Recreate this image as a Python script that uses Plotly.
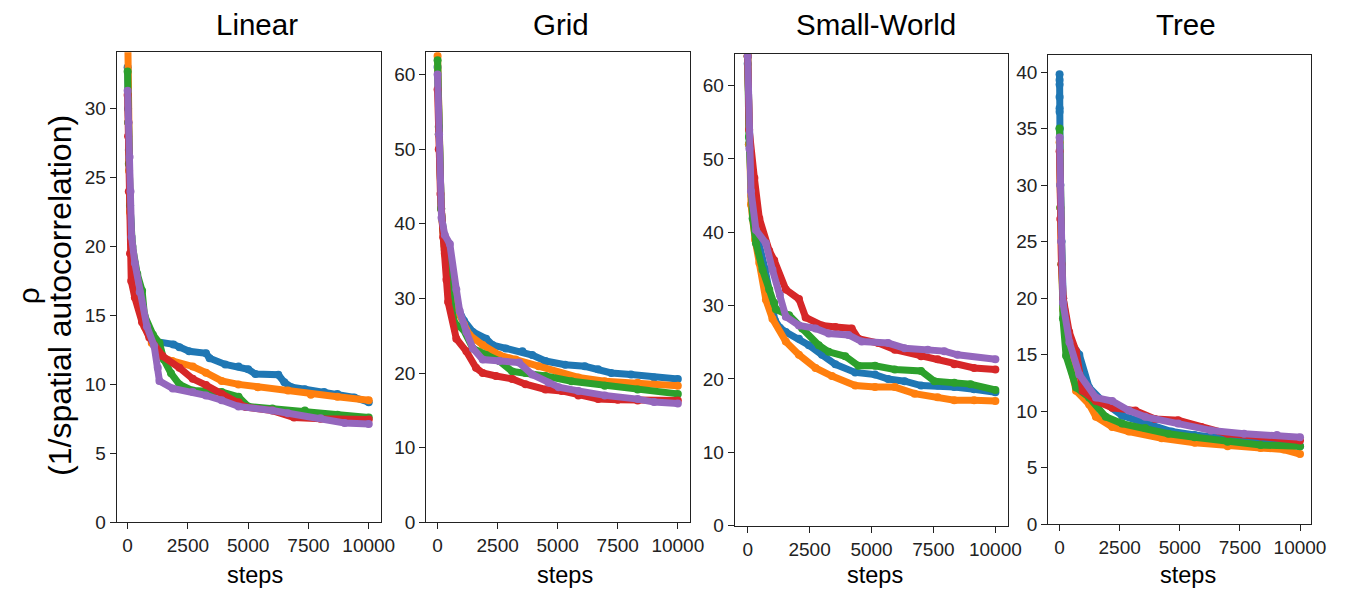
import plotly.graph_objects as go

W, H = 1346, 590

COLORS = ["#1f77b4", "#ff7f0e", "#2ca02c", "#d62728", "#9467bd"]
TITLES = ["Linear", "Grid", "Small-World", "Tree"]
X_TICKS = [0, 2500, 5000, 7500, 10000]
Y_TICKS = [
    [0, 5, 10, 15, 20, 25, 30],
    [0, 10, 20, 30, 40, 50, 60],
    [0, 10, 20, 30, 40, 50, 60],
    [0, 5, 10, 15, 20, 25, 30, 35, 40],
]
Y_LABEL_LINES = ["ρ", "(1/spatial autocorrelation)"]

# ---------------- Linear ----------------
L_blue_x = [0, 20, 50, 100, 200, 400, 700, 1000, 1200, 1900, 2150, 2550, 3250, 3400, 4050, 4600, 5000, 5300, 6250, 6500, 6800, 7350, 8150, 8700, 9400, 10000]
L_blue_y = [33.0, 30.0, 27.0, 23.0, 19.5, 16.8, 14.6, 13.6, 13.1, 12.9, 12.7, 12.4, 12.25, 11.9, 11.45, 11.3, 11.1, 10.75, 10.7, 10.15, 9.8, 9.65, 9.45, 9.3, 9.05, 8.7]
L_orange_x = [0, 30, 60, 100, 200, 400, 700, 1000, 1300, 1850, 2700, 3250, 3900, 4600, 5400, 6650, 7600, 8700, 10000]
L_orange_y = [36.0, 29.0, 25.5, 22.5, 19.2, 16.3, 14.2, 13.0, 12.05, 11.7, 11.3, 10.85, 10.25, 10.0, 9.8, 9.55, 9.25, 9.1, 8.85]
L_green_x = [0, 20, 50, 100, 200, 400, 600, 700, 1050, 1320, 1500, 1800, 2150, 2700, 3900, 4600, 5000, 6000, 7350, 8700, 10000]
L_green_y = [32.7, 29.0, 26.0, 23.0, 20.0, 18.0, 16.8, 15.0, 13.6, 13.0, 11.8, 10.8, 10.0, 9.55, 9.45, 9.1, 8.4, 8.25, 8.1, 7.8, 7.6]
L_red_x = [0, 20, 50, 100, 150, 300, 600, 900, 1450, 2150, 2700, 3250, 3900, 4600, 4900, 6000, 6900, 8000, 10000]
L_red_y = [31.0, 28.0, 24.0, 19.5, 17.5, 16.3, 14.5, 13.4, 12.05, 11.2, 10.4, 9.95, 9.3, 8.7, 8.35, 8.1, 7.6, 7.5, 7.45]
L_purple_x = [0, 40, 80, 120, 165, 300, 500, 800, 1100, 1250, 1320, 1870, 2700, 3250, 3900, 4600, 6000, 6650, 8000, 9000, 10000]
L_purple_y = [31.3, 29.0, 26.5, 24.0, 20.7, 18.8, 16.7, 14.2, 12.8, 11.2, 10.25, 9.7, 9.45, 9.2, 8.85, 8.4, 8.1, 7.9, 7.55, 7.2, 7.12]

# ---------------- Grid ----------------
G_blue_x = [0, 50, 150, 300, 500, 800, 1100, 1470, 2020, 2290, 2840, 3530, 3940, 4490, 5310, 6130, 6680, 7230, 8050, 9010, 10000]
G_blue_y = [61.0, 52.0, 42.0, 37.0, 33.0, 29.0, 27.0, 25.5, 24.6, 23.75, 23.3, 22.9, 22.4, 21.6, 21.1, 20.9, 20.5, 20.0, 19.8, 19.4, 19.2]
G_orange_x = [0, 50, 150, 300, 500, 800, 1100, 1330, 1880, 2570, 3250, 4210, 5040, 5860, 6960, 8330, 10000]
G_orange_y = [62.5, 52.0, 42.0, 36.0, 32.0, 28.5, 26.5, 25.1, 23.75, 22.4, 21.8, 20.9, 20.0, 19.4, 18.9, 18.7, 18.3]
G_green_x = [0, 50, 150, 300, 500, 650, 780, 1060, 1470, 2020, 2570, 3110, 3660, 4490, 5580, 6960, 8330, 10000]
G_green_y = [61.9, 53.0, 42.0, 36.5, 31.0, 27.3, 26.4, 25.9, 23.3, 22.4, 21.6, 20.2, 20.0, 19.6, 18.9, 18.3, 17.8, 17.2]
G_red_x = [0, 50, 120, 235, 370, 440, 780, 1200, 1600, 1880, 2430, 3110, 3660, 4490, 5170, 5860, 6680, 7500, 8330, 10000]
G_red_y = [58.0, 50.0, 44.0, 38.2, 32.5, 29.5, 24.6, 22.9, 20.7, 20.0, 19.6, 19.2, 18.5, 17.8, 17.6, 17.0, 16.5, 16.4, 16.3, 16.3]
G_purple_x = [0, 60, 165, 300, 510, 780, 920, 1200, 1470, 1880, 2570, 3390, 3940, 4620, 5040, 5860, 6960, 8330, 9010, 10000]
G_purple_y = [60.0, 52.0, 40.8, 38.5, 37.3, 31.2, 28.3, 25.5, 23.3, 21.8, 21.6, 21.4, 19.8, 18.7, 18.1, 17.6, 17.0, 16.5, 16.1, 15.9]

# ---------------- Small-World ----------------
S_blue_x = [0, 50, 150, 350, 700, 1100, 1300, 1540, 2070, 2470, 3000, 3540, 4340, 5140, 5670, 6340, 7000, 7670, 8340, 9140, 10000]
S_blue_y = [63.0, 52.0, 45.0, 40.0, 35.0, 28.0, 27.0, 26.4, 25.5, 24.6, 23.3, 22.0, 20.9, 20.6, 20.0, 19.7, 19.1, 19.1, 18.9, 18.6, 18.2]
S_orange_x = [0, 50, 135, 300, 470, 735, 1000, 1540, 2070, 2740, 3400, 4340, 5140, 5940, 6740, 7670, 8340, 9140, 10000]
S_orange_y = [64.0, 52.0, 43.8, 39.0, 35.8, 30.8, 28.2, 25.1, 23.3, 21.5, 20.4, 19.1, 18.9, 18.9, 18.0, 17.5, 17.1, 17.1, 17.0]
S_green_x = [0, 50, 200, 335, 600, 870, 1070, 1140, 1670, 2200, 2870, 3270, 3940, 4470, 5140, 5940, 7000, 7540, 8340, 9000, 10000]
S_green_y = [64.0, 53.0, 41.9, 38.5, 34.9, 32.2, 30.4, 29.5, 28.7, 26.9, 24.6, 23.7, 23.1, 21.8, 21.8, 21.3, 21.1, 19.7, 19.5, 19.3, 18.5]
S_red_x = [0, 60, 270, 470, 870, 1070, 1540, 2070, 2340, 3000, 3540, 4200, 4470, 5270, 5940, 7000, 7670, 8340, 9140, 10000]
S_red_y = [64.0, 54.0, 47.4, 41.9, 37.5, 36.2, 32.2, 30.9, 28.4, 27.3, 27.1, 26.9, 25.5, 24.9, 24.0, 23.1, 22.7, 22.0, 21.5, 21.3]
S_purple_x = [0, 70, 135, 335, 735, 1000, 1300, 1540, 2070, 2740, 3270, 4070, 4600, 5670, 6340, 7270, 7940, 8470, 10000]
S_purple_y = [64.0, 51.4, 45.6, 40.3, 38.5, 34.9, 31.5, 28.5, 27.3, 26.9, 26.2, 26.0, 25.1, 24.9, 24.2, 24.0, 23.8, 23.3, 22.7]

# ---------------- Tree ----------------
T_blue_x = [0, 0, 0, 0, 0, 0, 0, 30, 80, 150, 400, 820, 1230, 1780, 2600, 3560, 4660, 5620, 6990, 8360, 10000]
T_blue_y = [39.8, 39.3, 38.9, 37.8, 36.8, 36.5, 35.0, 30.0, 25.0, 20.0, 16.3, 15.0, 12.1, 10.9, 9.6, 8.9, 8.2, 7.9, 7.5, 7.2, 6.9]
T_orange_x = [0, 30, 80, 150, 270, 685, 1230, 1510, 2190, 2880, 4250, 5620, 6990, 8360, 9320, 10000]
T_orange_y = [33.8, 28.0, 23.0, 19.0, 15.8, 11.8, 10.6, 9.5, 8.6, 8.2, 7.6, 7.2, 6.9, 6.75, 6.6, 6.2]
T_green_x = [0, 30, 80, 140, 270, 685, 1230, 1920, 2600, 3560, 4520, 5620, 6990, 8360, 10000]
T_green_y = [35.0, 28.0, 23.0, 18.2, 14.9, 12.1, 11.2, 9.5, 8.9, 8.5, 8.0, 7.7, 7.3, 7.0, 6.9]
T_red_x = [0, 30, 80, 150, 400, 685, 960, 1510, 2190, 3150, 3970, 4930, 5890, 6990, 8360, 10000]
T_red_y = [33.0, 27.0, 23.0, 20.0, 17.0, 15.3, 11.8, 10.9, 10.3, 10.05, 9.3, 9.2, 8.6, 8.0, 7.75, 7.4]
T_purple_x = [0, 30, 70, 140, 410, 820, 1510, 2190, 2880, 3560, 4930, 6300, 7670, 9040, 10000]
T_purple_y = [34.2, 30.0, 25.0, 19.6, 16.1, 13.25, 11.2, 10.9, 10.05, 9.5, 8.9, 8.3, 8.0, 7.9, 7.7]

PANELS = [
    [(L_blue_x, L_blue_y), (L_orange_x, L_orange_y), (L_green_x, L_green_y), (L_red_x, L_red_y), (L_purple_x, L_purple_y)],
    [(G_blue_x, G_blue_y), (G_orange_x, G_orange_y), (G_green_x, G_green_y), (G_red_x, G_red_y), (G_purple_x, G_purple_y)],
    [(S_blue_x, S_blue_y), (S_orange_x, S_orange_y), (S_green_x, S_green_y), (S_red_x, S_red_y), (S_purple_x, S_purple_y)],
    [(T_blue_x, T_blue_y), (T_orange_x, T_orange_y), (T_green_x, T_green_y), (T_red_x, T_red_y), (T_purple_x, T_purple_y)],
]

# layout geometry (pixels): left, right, top, bottom
BOXES = [(110, 377, 45, 524), (423, 690, 45, 524), (735, 1011, 47, 527.5), (1052, 1318, 48, 526)]
X_RANGES = [(-450, 10500), (-470, 10520), (-520, 10500), (-470, 10470)]
Y_RANGES = [(0, 34.1), (0, 63.0), (0, 64.3), (0, 41.5)]
TITLE_X = [252, 559, 878, 1191]
XLABEL_X = [250, 563, 877, 1193]

FONT = "Arial, Liberation Sans, sans-serif"

fig = go.Figure()
layout = dict(
    width=W, height=H, margin=dict(l=0, r=0, t=0, b=0),
    paper_bgcolor="white", plot_bgcolor="white", showlegend=False,
    font=dict(family=FONT, color="black"),
)
annotations = []
for i, series in enumerate(PANELS):
    n = "" if i == 0 else str(i + 1)
    l, r, t, b = BOXES[i]
    for (xs, ys), c in zip(series, COLORS):
        fig.add_trace(go.Scatter(
            x=xs, y=ys, mode="lines+markers", xaxis="x" + n, yaxis="y" + n,
            line=dict(color=c, width=7), marker=dict(color=c, size=8),
            cliponaxis=True, hoverinfo="skip",
        ))
    axcommon = dict(showline=True, mirror=True, linecolor="#222", linewidth=1.3,
                    ticks="outside", ticklen=6, tickwidth=1.3, tickcolor="#222",
                    showgrid=False, zeroline=False,
                    tickfont=dict(family=FONT, size=19, color="#222"))
    layout["xaxis" + n] = dict(axcommon, domain=[l / W, r / W], range=list(X_RANGES[i]),
                               tickvals=X_TICKS, ticktext=[str(v) for v in X_TICKS],
                               anchor="y" + n)
    layout["yaxis" + n] = dict(axcommon, domain=[1 - b / H, 1 - t / H], range=list(Y_RANGES[i]),
                               tickvals=Y_TICKS[i], ticktext=[str(v) for v in Y_TICKS[i]],
                               anchor="x" + n)
    annotations.append(dict(text=TITLES[i], x=TITLE_X[i] / W, y=1 - 17 / H, xref="paper", yref="paper",
                            xanchor="center", yanchor="middle", showarrow=False,
                            font=dict(family=FONT, size=29.5, color="black")))
    annotations.append(dict(text="steps", x=XLABEL_X[i] / W, y=1 - 578 / H, xref="paper", yref="paper",
                            xanchor="center", yanchor="middle", showarrow=False,
                            font=dict(family=FONT, size=23.5, color="black")))

for txt, xc, fs in zip(Y_LABEL_LINES, [21, 52], [30, 32]):
    annotations.append(dict(text=txt, x=xc / W, y=1 - 293 / H,
                            xref="paper", yref="paper", xanchor="center", yanchor="middle",
                            textangle=-90, showarrow=False,
                            font=dict(family=FONT, size=fs, color="black")))
layout["annotations"] = annotations
fig.update_layout(**layout)
fig.write_html("out.html")
